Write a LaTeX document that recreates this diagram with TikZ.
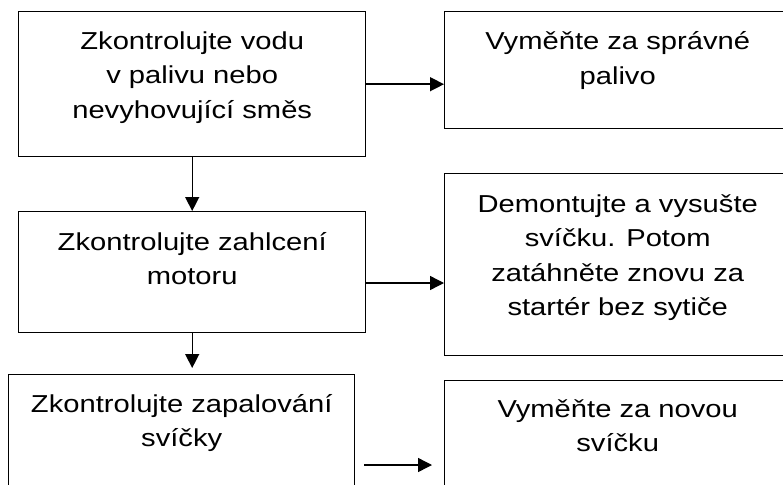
\documentclass[tikz,border=0pt]{standalone}
\usepackage{fontspec}
\setmainfont{Liberation Sans}[FakeStretch=1.19]
\usetikzlibrary{arrows.meta}
\begin{document}
\begin{tikzpicture}[x=1pt, y=-1pt,
	box/.style={draw, line width=1.4pt, anchor=north west, inner sep=0pt},
	txt/.style={align=center, anchor=base, inner sep=0pt, font=\fontsize{24.5}{34.5}\selectfont},
	arr/.style={line width=1.4pt, -{Triangle[length=14pt, width=14pt]}}]
	\useasboundingbox (0,0) rectangle (783,484);
	\clip (0,0) rectangle (783,484);
	
	%left column
	\node[box, minimum width=347pt, minimum height=145pt] (b1) at (18,11) {};
	\node[box, minimum width=347pt, minimum height=121pt] (b3) at (18,211) {};
	\node[box, minimum width=346pt, minimum height=130pt] (b5) at (8,374) {};
	
	%right column
	\node[box, minimum width=346pt, minimum height=117pt] (b2) at (444,11) {};
	\node[box, minimum width=346pt, minimum height=182pt] (b4) at (444,173) {};
	\node[box, minimum width=346pt, minimum height=130pt] (b6) at (444,380) {};
	
	%texts (base = last line)
	\node[txt] (t1) at ([yshift=-107pt]b1.north) {Zkontrolujte vodu\\v palivu nebo\\nevyhovující směs};
	\node[txt] (t3) at ([yshift=-73.5pt]b3.north) {Zkontrolujte zahlcení\\motoru};
	\node[txt] (t5) at ([yshift=-72.5pt]b5.north) {Zkontrolujte zapalování\\svíčky};
	\node[txt] (t2) at ([yshift=-73.5pt]b2.north) {Vyměňte za správné\\palivo};
	\node[txt] (t4) at ([yshift=-142.5pt]b4.north) {Demontujte a vysušte\\svíčku. Potom\\zatáhněte znovu za\\startér bez sytiče};
	\node[txt] (t6) at ([yshift=-71.5pt]b6.north) {Vyměňte za novou\\svíčku};
	
	%arrows
	\coordinate (p3) at (365,283);
	\coordinate (p5) at (364,465);
	\coordinate (q5) at (432,465);
	\draw[arr] (b1.east) -- (b1.east -| b2.west);
	\draw[arr] (b1.south) -- (b3.north);
	\draw[arr] (p3) -- (p3 -| b4.west);
	\draw[arr, shorten >=6pt] (b3.south) -- (b3.south |- b5.north);
	\draw[arr] (p5) -- (q5);
\end{tikzpicture}
\end{document}
